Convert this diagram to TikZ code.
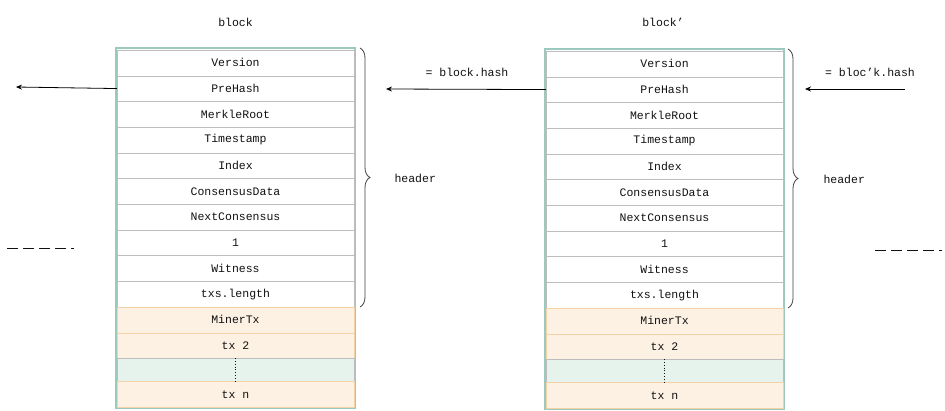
\documentclass[tikz,border=0pt]{standalone}
\usepackage{fontspec}
\setmainfont{Liberation Mono}
\usetikzlibrary{arrows.meta,decorations.pathreplacing}
\definecolor{teal1}{HTML}{9CC9BD}
\definecolor{gray1}{HTML}{BDBDBD}
\definecolor{orfill}{HTML}{FDF1E4}
\definecolor{ordraw}{HTML}{F5D2A6}
\definecolor{grfill}{HTML}{E6F3EC}
\definecolor{ink}{HTML}{111111}
\tikzset{
  rowbox/.style={draw=gray1, fill=white, minimum width=237pt, minimum height=25.7pt, inner sep=0pt, font=\fontsize{11.5}{12}\selectfont, text=ink, anchor=center},
  txbox/.style={rowbox, draw=ordraw, fill=orfill},
  dotbox/.style={rowbox, draw=gray1, fill=grfill, minimum height=22.6pt},
  frame/.style={draw=teal1, line width=1.2pt},
  arr/.style={draw=black, line width=0.8pt, -{Stealth[length=6pt,width=5pt]}},
  brc/.style={draw=ink!80, line width=0.8pt, decorate, decoration={brace, amplitude=10pt, raise=0pt}},
  lbl/.style={font=\fontsize{11.5}{12}\selectfont, text=ink},
  dsh/.style={draw=ink, line width=1pt, dash pattern=on 11pt off 5pt}
}
\begin{document}
\begin{tikzpicture}[x=1pt,y=-1pt]
\useasboundingbox (0,0) rectangle (945,410);
\fill[white] (0,0) rectangle (945,410);
% ---------- left block ----------
\node[frame, minimum width=239pt, minimum height=360pt, inner sep=0pt] (LF) at (235.5,228) {};
\foreach \t [count=\i] in {Version,PreHash,MerkleRoot,Timestamp,Index,ConsensusData,NextConsensus,1,Witness,txs.length}{
  \node[rowbox] (L\i) at (235.5,{50+25.7*(\i-0.5)}) {\t};
}
\node[txbox] (L11) at (235.5,{50+25.7*10.5}) {MinerTx};
\node[txbox] (L12) at (235.5,{50+25.7*11.5}) {tx 2};
\node[dotbox] (L13) at (235.5,369.7) {};
\node[txbox] (L14) at (235.5,394.5) {tx n};
\draw[ink, dotted, line width=0.8pt] (L13.north) -- (L13.south);
\draw[frame] (LF.north west) rectangle (LF.south east);
\node[lbl] (LT) at (235.5,22) {block};
% ---------- right block ----------
\node[frame, minimum width=239pt, minimum height=360pt, inner sep=0pt] (RF) at (664.5,229) {};
\foreach \t [count=\i] in {Version,PreHash,MerkleRoot,Timestamp,Index,ConsensusData,NextConsensus,1,Witness,txs.length}{
  \node[rowbox] (R\i) at (664.5,{51+25.7*(\i-0.5)}) {\t};
}
\node[txbox] (R11) at (664.5,{51+25.7*10.5}) {MinerTx};
\node[txbox] (R12) at (664.5,{51+25.7*11.5}) {tx 2};
\node[dotbox] (R13) at (664.5,370.7) {};
\node[txbox] (R14) at (664.5,395.5) {tx n};
\draw[ink, dotted, line width=0.8pt] (R13.north) -- (R13.south);
\draw[frame] (RF.north west) rectangle (RF.south east);
\node[lbl] (RT) at (663,22) {block’};
% ---------- braces ----------
\coordinate (LB1) at (360,48);
\coordinate (LB2) at (360,307);
\draw[brc] (LB1) -- (LB2);
\node[lbl, anchor=west] (LH) at (391,178) {header};
\coordinate (RB1) at (788,49);
\coordinate (RB2) at (788,308);
\draw[brc] (RB1) -- (RB2);
\node[lbl, anchor=west] (RH) at (820,179) {header};
% ---------- arrows ----------
\coordinate (A0) at (16,87);
\draw[arr] (L2.west) -- (A0);
\coordinate (A1) at (386,89);
\draw[arr] (R2.west) -- (A1);
\node[lbl] (AL1) at (467,72) {= block.hash};
\coordinate (A2s) at (905,89);
\coordinate (A2e) at (805,89);
\draw[arr] (A2s) -- (A2e);
\node[lbl] (AL2) at (870,72) {= bloc’k.hash};
% ---------- dashed ----------
\coordinate (D1a) at (7,248);
\coordinate (D1b) at (74,248);
\draw[dsh] (D1a) -- (D1b);
\coordinate (D2a) at (875,250);
\coordinate (D2b) at (942,250);
\draw[dsh] (D2a) -- (D2b);
\end{tikzpicture}
\end{document}
